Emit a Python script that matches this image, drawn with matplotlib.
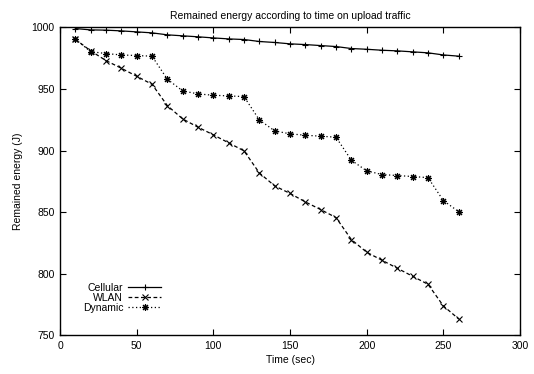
"""Remained energy vs. time on upload traffic (gnuplot-style line chart)."""

import matplotlib
matplotlib.use("Agg")
import matplotlib.pyplot as plt

time_sec = [10, 20, 30, 40, 50, 60, 70, 80, 90, 100, 110, 120, 130,
            140, 150, 160, 170, 180, 190, 200, 210, 220, 230, 240, 250, 260]

cellular = [998.9, 997.8, 997.6, 997.0, 996.2, 995.4, 993.8, 993.0, 992.2,
            991.3, 990.5, 990.0, 988.4, 987.6, 986.5, 985.9, 985.1, 984.3,
            982.7, 982.1, 981.3, 980.8, 980.0, 979.2, 977.5, 976.5]

wlan = [990.2, 980.8, 972.9, 966.7, 960.2, 953.7, 936.4, 925.6, 918.9,
        912.7, 906.2, 899.7, 881.8, 871.3, 865.2, 858.3, 852.1, 845.6,
        827.8, 817.5, 811.0, 804.5, 798.0, 791.5, 774.0, 763.4]

dynamic = [990.2, 980.2, 978.6, 977.5, 977.0, 976.5, 957.8, 948.3, 945.9,
           944.8, 944.3, 943.7, 924.8, 915.9, 913.5, 912.4, 911.6, 910.8,
           892.1, 883.5, 880.5, 879.7, 878.9, 878.0, 859.4, 850.4]

x_ticks = [0, 50, 100, 150, 200, 250, 300]
y_ticks = [750, 800, 850, 900, 950, 1000]

FS = 7.5
plt.rcParams["font.family"] = ["Liberation Sans", "DejaVu Sans"]
plt.rcParams["font.size"] = FS

fig = plt.figure(figsize=(5.34, 3.74), dpi=100)
ax = fig.add_axes([0.1124, 0.103, 0.8614, 0.8243])

ax.plot(time_sec, cellular, color="black", lw=0.9, ls="-",
        marker="+", ms=5, mew=0.8, label="Cellular")
ax.plot(time_sec, wlan, color="black", lw=0.9, ls=(0, (3, 2)),
        marker="x", ms=4, mew=0.8, label="WLAN")
ax.plot(time_sec, dynamic, color="black", lw=0.9, ls=(0, (1, 2)),
        marker=(8, 2, 0), ms=5, mew=0.8, label="Dynamic")

ax.set_xlim(0, 300)
ax.set_ylim(750, 1000)
ax.set_xticks(x_ticks)
ax.set_yticks(y_ticks)
ax.tick_params(direction="in", top=True, right=True, length=4, width=0.8,
               labelsize=FS, pad=4)
for sp in ax.spines.values():
    sp.set_linewidth(1.0)

ax.set_xlabel("Time (sec)", fontsize=FS, labelpad=3)
ax.set_ylabel("Remained energy (J)", fontsize=FS, labelpad=6)
ax.set_title("Remained energy according to time on upload traffic",
             fontsize=FS, pad=6)

ax.legend(loc="center", bbox_to_anchor=(0.134, 0.123), frameon=False,
          markerfirst=False, fontsize=FS, handlelength=3.1,
          handletextpad=0.5, labelspacing=0.0, borderpad=0.2)

fig.savefig("out.png", dpi=100)
